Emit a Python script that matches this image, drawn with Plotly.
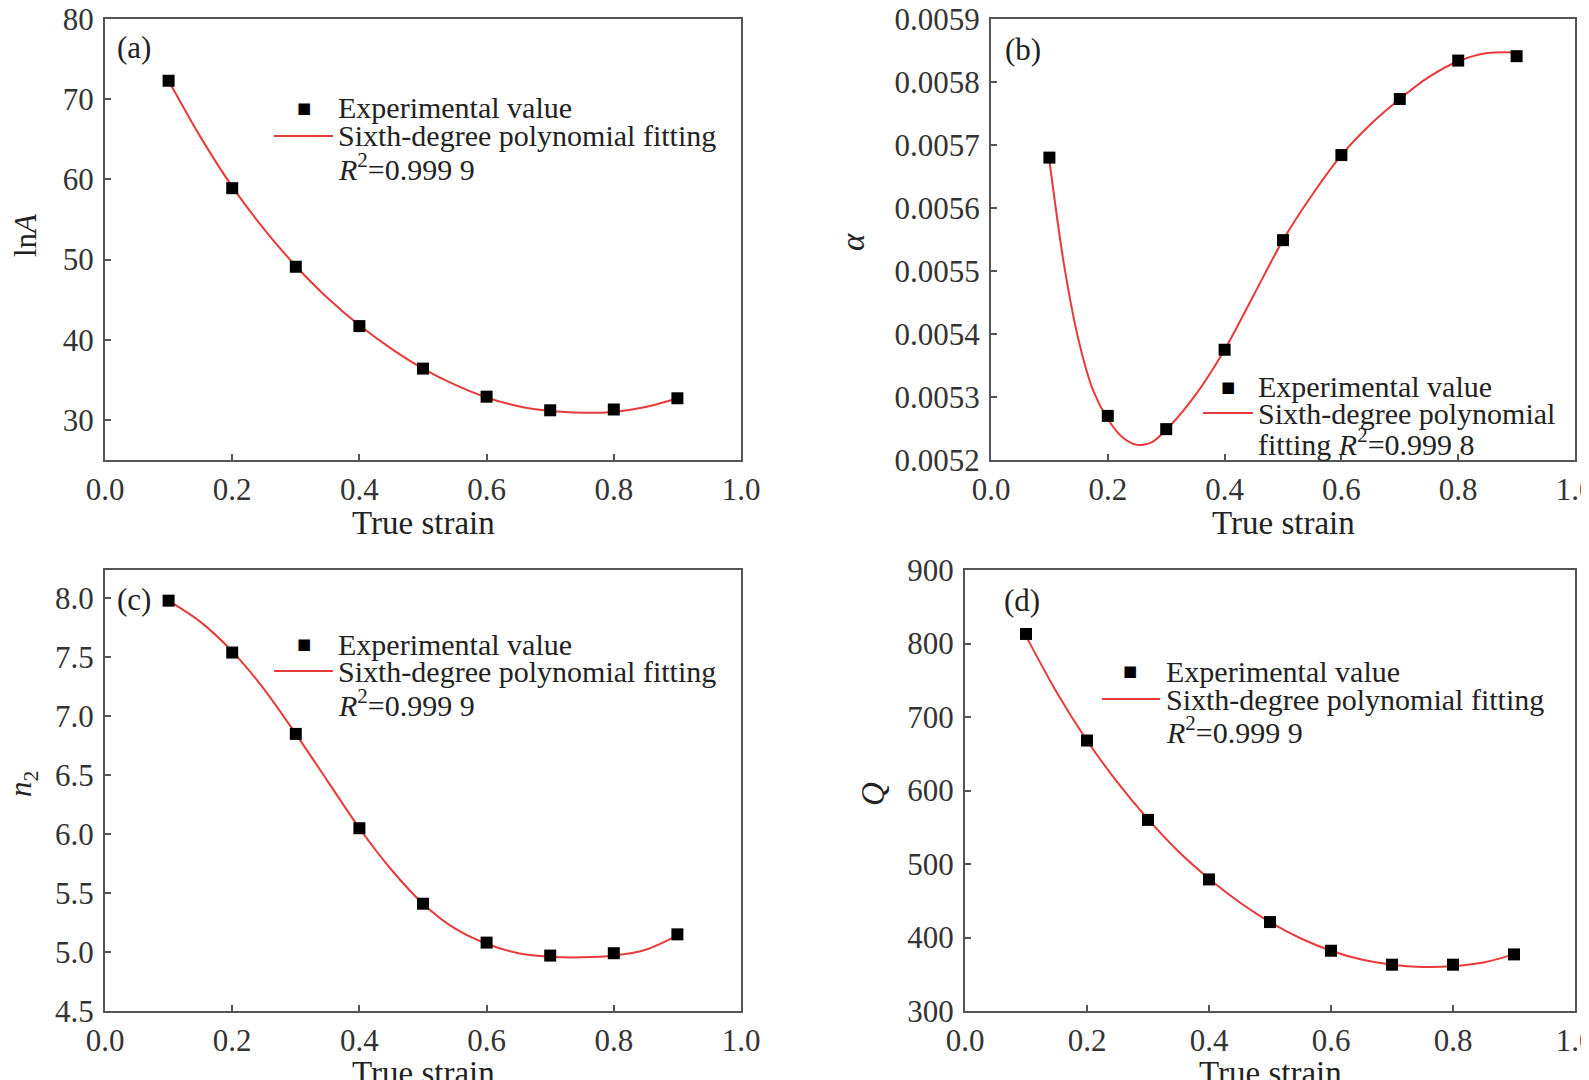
import plotly.graph_objects as go

W, H = 1589, 1080

# experimental points
strain = [0.1, 0.2, 0.3, 0.4, 0.5, 0.6, 0.7, 0.8, 0.9]
lnA = [72.3, 58.9, 49.1, 41.7, 36.4, 32.9, 31.2, 31.3, 32.7]
alpha = [0.005680, 0.005270, 0.005249, 0.005375, 0.005549, 0.005684, 0.005773, 0.005834, 0.005841]
n2 = [7.98, 7.54, 6.85, 6.05, 5.41, 5.08, 4.97, 4.99, 5.15]
Q = [813, 668, 560, 479, 421, 382, 363, 363, 377]

# fitted curves
fit_x = [0.10, 0.15, 0.20, 0.25, 0.30, 0.35, 0.40, 0.45, 0.50,
         0.55, 0.60, 0.65, 0.70, 0.75, 0.80, 0.85, 0.90]
lnA_fit = [72.3, 65.3, 59.1, 53.8, 49.2, 45.2, 41.8, 38.9, 36.4,
           34.4, 32.8, 31.7, 31.1, 30.9, 31.0, 31.6, 32.7]
n2_fit = [7.98, 7.80, 7.55, 7.23, 6.85, 6.45, 6.05, 5.70, 5.41,
          5.20, 5.07, 4.99, 4.96, 4.955, 4.97, 5.02, 5.14]
Q_fit = [810, 734, 668, 611, 561, 517, 480, 448, 421,
         399, 382, 370, 363, 360, 361, 366, 377]
alpha_fit_x = [0.1, 0.125, 0.15, 0.175, 0.2, 0.225, 0.25, 0.275, 0.3, 0.35, 0.4,
               0.45, 0.5, 0.55, 0.6, 0.65, 0.7, 0.75, 0.8, 0.85, 0.9]
alpha_fit = [0.005675, 0.005510, 0.005390, 0.005310, 0.005265, 0.005236, 0.005224,
             0.005228, 0.005248, 0.005303, 0.005375, 0.005462, 0.005549, 0.005621,
             0.005684, 0.005733, 0.005773, 0.005808, 0.005833, 0.005846, 0.005847]

FONT = "Liberation Serif"
RED = "#e83a3a"
AXC = "#555555"


def px(x):
    return x / W


def py_(y):
    return 1 - y / H


fig = go.Figure()

panels = [
    # x data, y data, fit x, fit y, xaxis, yaxis
    (strain, lnA, fit_x, lnA_fit, "x", "y"),
    (strain, alpha, alpha_fit_x, alpha_fit, "x2", "y2"),
    (strain, n2, fit_x, n2_fit, "x3", "y3"),
    (strain, Q, fit_x, Q_fit, "x4", "y4"),
]
for xs, ys, fx, fy, xa, ya in panels:
    fig.add_trace(go.Scatter(x=fx, y=fy, mode="lines",
                             line=dict(color=RED, width=2, shape="spline", smoothing=0.8),
                             xaxis=xa, yaxis=ya, showlegend=False))
    fig.add_trace(go.Scatter(x=xs, y=ys, mode="markers",
                             marker=dict(symbol="square", size=12, color="black"),
                             xaxis=xa, yaxis=ya, showlegend=False))

axis_common = dict(showline=True, linecolor=AXC, linewidth=2, mirror=True,
                   ticks="inside", ticklen=6, tickwidth=1.5, tickcolor=AXC,
                   showgrid=False, zeroline=False, automargin=False,
                   ticklabeloverflow="allow",
                   tickfont=dict(family=FONT, size=31, color="#333333"))

xdom_a = [px(97), px(733)]
xdom_b = [px(983), px(1567)]
xdom_d = [px(957), px(1567)]
ydom_top = [py_(452), py_(11)]
ydom_bot = [py_(1003), py_(562)]

xt = dict(range=[0, 1], dtick=0.2, tickformat=".1f", ticklabelstandoff=1)
yt = dict(ticklabelstandoff=3)
fig.update_layout(
    xaxis=dict(domain=xdom_a, anchor="y", **xt, **axis_common),
    yaxis=dict(domain=ydom_top, anchor="x", range=[25, 80], dtick=10, **yt, **axis_common),
    xaxis2=dict(domain=xdom_b, anchor="y2", **xt, **axis_common),
    yaxis2=dict(domain=ydom_top, anchor="x2", range=[0.0052, 0.0059], dtick=0.0001,
                tickformat=".4f", **yt, **axis_common),
    xaxis3=dict(domain=xdom_a, anchor="y3", **xt, **axis_common),
    yaxis3=dict(domain=ydom_bot, anchor="x3", range=[4.5, 8.24], dtick=0.5,
                tickformat=".1f", **yt, **axis_common),
    xaxis4=dict(domain=xdom_d, anchor="y4", **xt, **axis_common),
    yaxis4=dict(domain=ydom_bot, anchor="x4", range=[300, 900], dtick=100, **yt, **axis_common),
)

annots = []
shapes = []


def text(x, y, s, size=30, xanchor="left", angle=0, color="#222222"):
    annots.append(dict(x=px(x), y=py_(y), xref="paper", yref="paper", text=s,
                       showarrow=False, xanchor=xanchor, yanchor="middle",
                       textangle=angle,
                       font=dict(family=FONT, size=size, color=color)))


# panel labels
text(107, 40, "(a)", 31)
text(995, 42, "(b)", 31)
text(107, 591, "(c)", 31)
text(994, 592, "(d)", 31)

# axis titles
text(17, 227, "ln<i>A</i>", 31, "center", -90)
text(845, 234, "<i>α</i>", 33, "center", -90)
text(15, 776, "<i>n</i><sub>2</sub>", 31, "center", -90)
text(865, 786, "<i>Q</i>", 33, "center", -90)
text(415, 515, "True strain", 33, "center")
text(1275, 515, "True strain", 33, "center")
text(415, 1065, "True strain", 33, "center")
text(1262, 1065, "True strain", 33, "center")

# legends: marker key, line key, texts
legends = [
    (296, 328, [100, 128, 159], (266, 325),
     ["Experimental value", "Sixth-degree polynomial fitting",
      "<i>R</i><sup>2</sup>=0.999 9"]),
    (1220, 1248, [379, 405, 434], (1195, 1245),
     ["Experimental value", "Sixth-degree polynomial",
      "fitting <i>R</i><sup>2</sup>=0.999 8"]),
    (296, 328, [636, 663, 695], (266, 325),
     ["Experimental value", "Sixth-degree polynomial fitting",
      "<i>R</i><sup>2</sup>=0.999 9"]),
    (1122, 1156, [663, 691, 722], (1094, 1152),
     ["Experimental value", "Sixth-degree polynomial fitting",
      "<i>R</i><sup>2</sup>=0.999 9"]),
]
for mx, tx, rows, (l0, l1), labels in legends:
    annots.append(dict(x=px(mx), y=py_(rows[0]), xref="paper", yref="paper",
                       text="■", showarrow=False, xanchor="center", yanchor="middle",
                       font=dict(family="DejaVu Sans", size=15, color="black")))
    shapes.append(dict(type="line", xref="paper", yref="paper",
                       x0=px(l0), x1=px(l1), y0=py_(rows[1]), y1=py_(rows[1]),
                       line=dict(color=RED, width=2)))
    for r, lab in zip(rows, labels):
        text(tx, r, lab, 30)

fig.update_layout(
    width=W, height=H,
    margin=dict(l=0, r=0, t=0, b=0),
    paper_bgcolor="white", plot_bgcolor="white",
    showlegend=False,
    annotations=annots, shapes=shapes,
)

fig.write_html("out.html")
